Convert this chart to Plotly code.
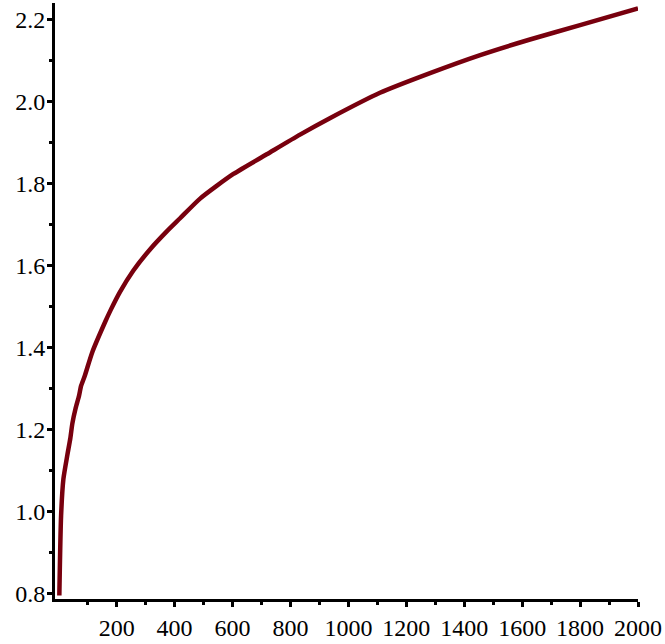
import plotly.graph_objects as go

# values
x_vals = [2, 8, 16, 30, 40, 47, 58, 70, 77, 89, 116, 160, 179, 211, 257, 315, 373, 419,
          488, 603, 718, 833, 936, 1109, 1282, 1455, 1627, 1800, 2000]
y_vals = [0.796, 0.99, 1.08, 1.14, 1.18, 1.216, 1.252, 1.283, 1.307, 1.33, 1.39, 1.463,
          1.492, 1.536, 1.588, 1.64, 1.684, 1.716, 1.764, 1.824, 1.872, 1.920, 1.960, 2.022,
          2.070, 2.114, 2.152, 2.187, 2.228]

x_ticks = [200, 400, 600, 800, 1000, 1200, 1400, 1600, 1800, 2000]
x_minor = [100, 300, 500, 700, 900, 1100, 1300, 1500, 1700, 1900]
y_ticks = [0.8, 1.0, 1.2, 1.4, 1.6, 1.8, 2.0, 2.2]
y_labels = ["0.8", "1.0", "1.2", "1.4", "1.6", "1.8", "2.0", "2.2"]
y_minor = [0.9, 1.1, 1.3, 1.5, 1.7, 1.9, 2.1]

fig = go.Figure()
fig.add_trace(go.Scatter(x=x_vals, y=y_vals, mode="lines",
                         line=dict(color="#78000e", width=4.5, shape="spline", smoothing=0.6),
                         hoverinfo="skip"))

font = dict(family="Liberation Serif, Times New Roman, serif", size=24, color="black")

fig.update_layout(
    width=665, height=644, autosize=False,
    margin=dict(l=55, r=27, t=3, b=35.5, pad=0),
    paper_bgcolor="white", plot_bgcolor="white",
    showlegend=False,
    xaxis=dict(range=[-13, 2000], showgrid=False, zeroline=False,
               showline=True, linecolor="black", linewidth=3,
               ticks="outside", ticklen=5, tickwidth=2.5, tickcolor="black",
               tickvals=x_ticks, ticktext=[str(v) for v in x_ticks],
               tickfont=font,
               minor=dict(tickvals=x_minor, ticks="outside", ticklen=3, tickwidth=2.5,
                          tickcolor="black", showgrid=False)),
    yaxis=dict(range=[0.7875, 2.241], showgrid=False, zeroline=False,
               showline=True, linecolor="black", linewidth=3,
               ticks="outside", ticklen=5, tickwidth=2.5, tickcolor="black",
               tickvals=y_ticks, ticktext=y_labels,
               tickfont=font, ticklabelstandoff=-3,
               minor=dict(tickvals=y_minor, ticks="outside", ticklen=3, tickwidth=2.5,
                          tickcolor="black", showgrid=False)),
)

fig.write_html("out.html")
